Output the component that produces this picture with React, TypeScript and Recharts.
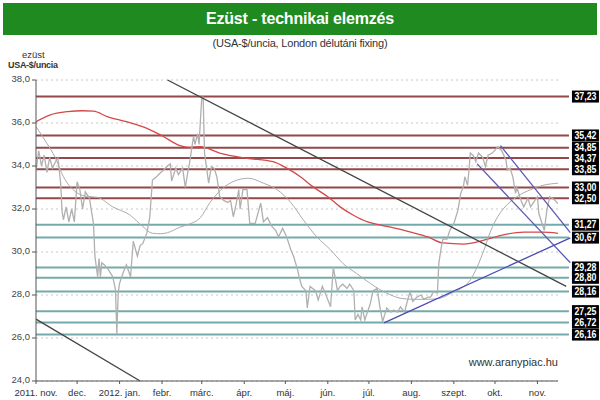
import React from 'react';
import { ComposedChart, Line, XAxis, YAxis, CartesianGrid, ReferenceLine } from 'recharts';

// x values are days counted from 2011-11-01
const monthTicks = [0, 30, 61, 92, 121, 152, 182, 213, 243, 274, 305, 335, 366];
const monthLabels = ['2011. nov.', 'dec.', '2012. jan.', 'febr.', 'márc.', 'ápr.', 'máj.', 'jún.', 'júl.', 'aug.', 'szept.', 'okt.', 'nov.'];
const priceTicks = [24, 26, 28, 30, 32, 34, 36, 38];

// London afternoon fixing, USD/oz
const fixDays = [
  0, 2, 4, 6, 8, 10, 12, 15, 16, 18, 19, 20, 22, 24, 26, 28, 30, 32, 34, 36, 37, 39, 42, 43, 45, 46,
  47, 48, 50, 53, 56, 58, 59, 60, 61, 64, 66, 69, 71, 74, 76, 78, 81, 83, 85, 88, 91, 93, 96, 98, 99,
  102, 104, 107, 109, 111, 112, 115, 116, 118, 119, 121, 122, 123, 126, 128, 130, 132, 134, 137, 140,
  142, 144, 146, 148, 149, 151, 154, 156, 160, 164, 166, 169, 172, 175, 177, 180, 183, 186, 188, 191,
  192, 194, 197, 198, 200, 204, 206, 209, 211, 215, 217, 220, 222, 224, 227, 229, 232, 233, 235, 237,
  238, 240, 244, 246, 249, 251, 253, 256, 259, 261, 264, 266, 269, 271, 273, 275, 278, 281, 283, 286,
  288, 290, 293, 294, 296, 297, 300, 302, 305, 308, 310, 312, 313, 315, 316, 317, 319, 321, 323, 326,
  328, 330, 333, 335, 337, 340, 343, 344, 346, 348, 350, 351, 354, 356, 359, 361, 363, 366, 367, 370,
  371, 373, 375, 378, 381,
];
const fixPrices = [
  33.8, 34.7, 34.0, 34.5, 33.7, 34.4, 33.9, 34.3, 34.37, 33.2, 31.9, 31.5, 32.1, 31.4, 32.0, 31.4, 33.27,
  32.9, 32.0, 32.8, 32.7, 32.5, 31.3, 29.8, 28.85, 29.7, 28.85, 29.5, 29.4, 29.16, 28.85, 28.25, 26.2,
  28.1, 28.55, 29.1, 29.4, 28.85, 30.5, 29.8, 30.3, 30.4, 30.9, 31.6, 33.35, 33.5, 33.7, 33.8, 34.0,
  34.1, 33.3, 33.9, 33.6, 33.9, 33.0, 33.8, 34.1, 35.4, 35.0, 35.5, 35.0, 37.2, 37.2, 34.6, 33.2, 33.97,
  33.9, 33.5, 32.6, 32.4, 32.3, 32.4, 31.64, 32.2, 32.9, 32.0, 32.9, 32.9, 31.33, 31.33, 32.27, 31.4,
  31.6, 31.2, 31.0, 30.7, 31.1, 30.7, 30.1, 29.8, 29.16, 28.85, 28.4, 28.2, 27.4, 28.4, 28.2, 27.77,
  28.4, 28.1, 27.45, 29.3, 28.2, 28.4, 28.5, 28.3, 28.5, 28.2, 26.84, 27.1, 26.84, 27.45, 26.84, 27.6,
  28.2, 28.3, 27.45, 26.76, 27.4, 27.2, 27.3, 27.2, 27.45, 27.2, 27.7, 28.15, 27.7, 27.9, 28.0, 27.8,
  27.9, 27.9, 28.15, 28.1, 29.47, 30.3, 30.6, 30.6, 31.0, 31.33, 31.95, 32.73, 33.05, 33.5, 33.1, 33.8,
  34.6, 34.5, 34.2, 34.6, 34.4, 33.97, 34.5, 34.6, 34.74, 34.9, 34.7, 34.28, 33.8, 33.9, 33.5, 32.73,
  33.0, 32.4, 32.1, 32.5, 32.1, 32.3, 32.57, 31.8, 31.2, 31.0, 32.0, 32.57, 32.45, 32.25,
];

// short moving average (grey, smooth)
const shortMaDays = [
  0, 8, 14, 20, 27, 36, 45, 56, 69, 78, 85, 91, 96, 105, 112, 120, 127, 137, 147, 155, 166, 176, 186,
  195, 205, 215, 224, 234, 244, 251, 259, 266, 275, 286, 295, 302, 310, 317, 322, 327, 332, 337, 341,
  351, 361, 370, 381,
];
const shortMaValues = [
  35.83, 35.05, 34.4, 33.5, 32.9, 32.6, 32.54, 32.1, 31.7, 31.18, 30.87, 30.85, 30.9, 31.15, 31.3, 31.6,
  32.3, 33.0, 33.35, 33.43, 33.2, 32.9, 32.3, 31.5, 30.7, 30.1, 29.47, 29.0, 28.54, 28.25, 28.0, 27.85,
  27.8, 27.8, 27.85, 28.05, 28.3, 28.7, 29.3, 30.1, 31.0, 31.64, 32.0, 32.57, 32.9, 33.1, 33.2,
];

// long moving average (red)
const longMaDays = [
  0, 10, 23, 34, 42, 52, 66, 81, 93, 105, 112, 120, 134, 154, 173, 183, 193, 202, 213, 222, 232, 242,
  251, 266, 275, 286, 297, 312, 327, 341, 356, 370, 381,
];
const longMaValues = [
  36.06, 36.37, 36.53, 36.57, 36.55, 36.3, 36.06, 35.75, 35.37, 34.95, 34.87, 34.9, 34.6, 34.36, 34.2,
  33.9, 33.5, 33.04, 32.57, 32.1, 31.7, 31.4, 31.26, 31.05, 30.9, 30.7, 30.42, 30.37, 30.55, 30.8, 30.92,
  30.92, 30.87,
];

const resistanceLevels = [37.23, 35.42, 34.85, 34.37, 33.85, 33.0, 32.5];
const supportLevels = [31.27, 30.67, 29.28, 28.8, 28.16, 27.25, 26.72, 26.16];

// trend lines: [day, price] end points
const upperTrend = [[96, 38.0], [387, 28.4]];
const lowerTrend = [[0, 26.88], [76, 24.0]];
const channelTop = [[339, 34.95], [390, 30.9]];
const channelBottom = [[322, 34.1], [390, 29.5]];
const risingTrend = [[254, 26.7], [390, 30.66]];

const levelEnd = 389;

const fixData = fixDays.map((d, i) => ({ day: d, price: fixPrices[i] }));
const shortMaData = shortMaDays.map((d, i) => ({ day: d, price: shortMaValues[i] }));
const longMaData = longMaDays.map((d, i) => ({ day: d, price: longMaValues[i] }));

const fmt = (v: number) => v.toFixed(2).replace('.', ',');

const LevelTag = (props: any) => {
  const vb = props.viewBox || {};
  const y = vb.y !== undefined ? vb.y : vb.y1;
  const x = (vb.x !== undefined ? vb.x + (vb.width || 0) : vb.x2) + 3;
  return (
    <g>
      <rect x={x} y={y - 6} width={27} height={12} fill="#000" />
      <text
        x={x + 13.5}
        y={y + 3.5}
        textAnchor="middle"
        fill="#fff"
        fontSize={10}
        fontWeight="bold"
        textLength={22}
        lengthAdjust="spacingAndGlyphs"
        fontFamily="'Liberation Sans', Arial, sans-serif"
      >
        {props.text}
      </text>
    </g>
  );
};

const seg = (pts: number[][]) => pts.map(([x, y]) => ({ x, y }));

export default function App() {
  const font = "'Liberation Sans', Arial, sans-serif";
  return (
    <div
      style={{
        position: 'absolute',
        left: 0,
        top: 0,
        width: 600,
        height: 400,
        background: '#fff',
        fontFamily: font,
        overflow: 'hidden',
      }}
    >
      <div
        style={{
          position: 'absolute',
          left: 3,
          top: 3,
          width: 594,
          height: 32,
          background: '#1f8a1f',
          color: '#fff',
          fontWeight: 'bold',
          fontSize: 16,
          lineHeight: '32px',
          textAlign: 'center',
          letterSpacing: -0.2,
        }}
      >
        Ezüst - technikai elemzés
      </div>
      <div
        style={{
          position: 'absolute',
          left: 0,
          top: 37,
          width: 600,
          textAlign: 'center',
          fontSize: 11,
          color: '#333',
          letterSpacing: -0.2,
        }}
      >
        (USA-$/uncia, London délutáni fixing)
      </div>
      <div style={{ position: 'absolute', left: 22, top: 49, fontSize: 9.5, color: '#333' }}>ezüst</div>
      <div style={{ position: 'absolute', left: 8, top: 60, fontSize: 9, fontWeight: 'bold', color: '#333', letterSpacing: -0.3 }}>
        USA-$/uncia
      </div>
      <div style={{ position: 'absolute', left: 460, top: 356, width: 98, textAlign: 'right', fontSize: 11, color: '#333' }}>
        www.aranypiac.hu
      </div>
      <div style={{ position: 'absolute', left: 0, top: 0 }}>
        <ComposedChart width={600} height={400} margin={{ top: 80, right: 42, bottom: 0, left: 0 }}>
          <CartesianGrid vertical={false} stroke="#c8c8c8" strokeDasharray="2 3" />
          <XAxis
            dataKey="day"
            type="number"
            domain={[0, 381]}
            ticks={monthTicks}
            allowDataOverflow
            height={19}
            tickSize={3}
            tickFormatter={(v: number) => monthLabels[monthTicks.indexOf(v)]}
            stroke="#555"
            tick={{ fontSize: 9.5, fill: '#333', dy: 3 }}
          />
          <YAxis
            type="number"
            domain={[24, 38]}
            ticks={priceTicks}
            width={36}
            tickSize={4}
            tickFormatter={(v: number) => v.toFixed(1).replace('.', ',')}
            stroke="#555"
            tick={{ fontSize: 9.5, fill: '#444', dy: -1 }}
          />
          {resistanceLevels.map((v) => (
            <ReferenceLine
              key={'r' + v}
              segment={[{ x: 0, y: v }, { x: levelEnd, y: v }]}
              ifOverflow="visible"
              stroke="#94484a"
              strokeWidth={2}
              label={(p: any) => <LevelTag {...p} text={fmt(v)} />}
            />
          ))}
          {supportLevels.map((v) => (
            <ReferenceLine
              key={'s' + v}
              segment={[{ x: 0, y: v }, { x: levelEnd, y: v }]}
              ifOverflow="visible"
              stroke="#74aaab"
              strokeWidth={2}
              label={(p: any) => <LevelTag {...p} text={fmt(v)} />}
            />
          ))}
          <Line data={longMaData} dataKey="price" type="monotone" stroke="#d44848" strokeWidth={1.3} dot={false} isAnimationActive={false} />
          <Line data={shortMaData} dataKey="price" type="monotone" stroke="#ababab" strokeWidth={1} dot={false} isAnimationActive={false} />
          <Line data={fixData} dataKey="price" type="linear" stroke="#b0b0b0" strokeWidth={1.3} dot={false} isAnimationActive={false} />
          <ReferenceLine segment={seg(upperTrend)} ifOverflow="visible" stroke="#444" strokeWidth={1.3} />
          <ReferenceLine segment={seg(lowerTrend)} ifOverflow="visible" stroke="#444" strokeWidth={1.3} />
          <ReferenceLine segment={seg(channelTop)} ifOverflow="visible" stroke="#5a5ab4" strokeWidth={1.3} />
          <ReferenceLine segment={seg(channelBottom)} ifOverflow="visible" stroke="#5a5ab4" strokeWidth={1.3} />
          <ReferenceLine segment={seg(risingTrend)} ifOverflow="visible" stroke="#4a4ab4" strokeWidth={1.3} />
        </ComposedChart>
      </div>
    </div>
  );
}
